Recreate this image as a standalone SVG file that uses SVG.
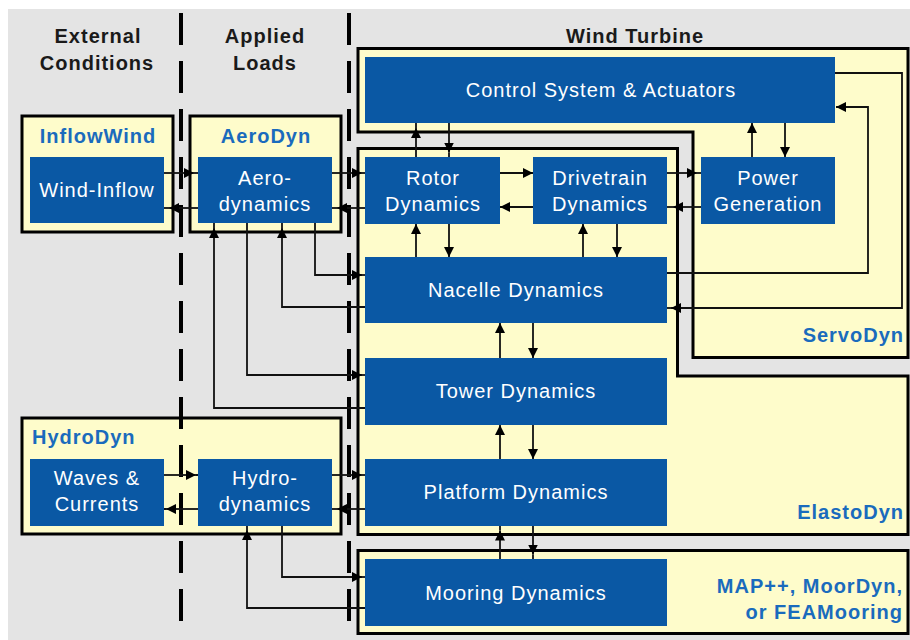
<svg xmlns="http://www.w3.org/2000/svg" width="910" height="640" viewBox="0 0 910 640">
<style>
.bg{fill:#e4e4e4}
.mod{fill:#fefccb;stroke:#000;stroke-width:3}
.dash{stroke:#000;stroke-width:4;stroke-dasharray:32 16;fill:none}
.node{fill:#0a58a4}
.nt{font-family:"Liberation Sans",Arial,sans-serif;font-size:20px;fill:#fff;text-anchor:middle;letter-spacing:1px}
.hd{font-family:"Liberation Sans",Arial,sans-serif;font-size:20px;font-weight:bold;fill:#1a1a1a;text-anchor:middle;letter-spacing:1px}
.ml{font-family:"Liberation Sans",Arial,sans-serif;font-size:20px;font-weight:bold;fill:#1a6bbd;letter-spacing:1px}
.c{fill:none;stroke:#111;stroke-width:1.8}
.a{marker-end:url(#ah)}
</style>
<defs>
<marker id="ah" viewBox="0 0 10 10" refX="10" refY="5" markerWidth="10" markerHeight="10" markerUnits="userSpaceOnUse" orient="auto">
<path d="M0,0 L10,5 L0,10 z" fill="#000"/>
</marker>
</defs>
<rect class="bg" x="8" y="9" width="902" height="631"/>

<g id="headers">
<text class="hd" x="98" y="43">External</text>
<text class="hd" x="97" y="70">Conditions</text>
<text class="hd" x="265" y="43">Applied</text>
<text class="hd" x="265" y="70">Loads</text>
<text class="hd" x="635" y="43">Wind Turbine</text>
</g>

<g id="InflowWind">
<rect class="mod" x="22" y="116" width="151" height="116"/>
<text class="ml" x="98" y="143" text-anchor="middle">InflowWind</text>
</g>
<g id="AeroDyn">
<rect class="mod" x="190" y="116" width="151" height="116"/>
<text class="ml" x="266" y="143" text-anchor="middle">AeroDyn</text>
</g>
<g id="HydroDyn">
<rect class="mod" x="22" y="418" width="319" height="116"/>
<text class="ml" x="32" y="444">HydroDyn</text>
</g>
<g id="ServoDyn">
<path class="mod" d="M358,48.5 H908 V357.5 H693 V132 H358 Z"/>
<text class="ml" x="904" y="342" text-anchor="end">ServoDyn</text>
</g>
<g id="ElastoDyn">
<path class="mod" d="M358,148.5 H677.5 V376 H908 V534.5 H358 Z"/>
<text class="ml" x="904" y="519" text-anchor="end">ElastoDyn</text>
</g>
<g id="MooringModule">
<rect class="mod" x="358" y="550.5" width="550" height="83"/>
<text class="ml" x="903" y="593" text-anchor="end">MAP++, MoorDyn,</text>
<text class="ml" x="903" y="619" text-anchor="end">or FEAMooring</text>
</g>

<g id="dividers">
<line class="dash" x1="181" y1="13" x2="181" y2="623"/>
<line class="dash" x1="349" y1="13" x2="349" y2="623"/>
</g>

<g id="wind-inflow">
<rect class="node" x="30" y="157" width="134" height="66"/>
<text class="nt" x="97" y="197">Wind-Inflow</text>
</g>
<g id="aerodynamics">
<rect class="node" x="198" y="157" width="134" height="66"/>
<text class="nt" x="265" y="185">Aero-</text>
<text class="nt" x="265" y="211">dynamics</text>
</g>
<g id="control">
<rect class="node" x="365" y="57" width="470" height="66"/>
<text class="nt" x="601" y="97">Control System &amp; Actuators</text>
</g>
<g id="rotor">
<rect class="node" x="365" y="157" width="135" height="67"/>
<text class="nt" x="433" y="185">Rotor</text>
<text class="nt" x="433" y="211">Dynamics</text>
</g>
<g id="drivetrain">
<rect class="node" x="533" y="157" width="134" height="67"/>
<text class="nt" x="600" y="185">Drivetrain</text>
<text class="nt" x="600" y="211">Dynamics</text>
</g>
<g id="power">
<rect class="node" x="701" y="157" width="134" height="67"/>
<text class="nt" x="768" y="185">Power</text>
<text class="nt" x="768" y="211">Generation</text>
</g>
<g id="nacelle">
<rect class="node" x="365" y="257" width="302" height="66"/>
<text class="nt" x="516" y="297">Nacelle Dynamics</text>
</g>
<g id="tower">
<rect class="node" x="365" y="358" width="302" height="67"/>
<text class="nt" x="516" y="398">Tower Dynamics</text>
</g>
<g id="platform">
<rect class="node" x="365" y="459" width="302" height="67"/>
<text class="nt" x="516" y="499">Platform Dynamics</text>
</g>
<g id="mooring">
<rect class="node" x="365" y="559" width="302" height="67"/>
<text class="nt" x="516" y="600">Mooring Dynamics</text>
</g>
<g id="waves">
<rect class="node" x="30" y="459" width="134" height="67"/>
<text class="nt" x="97" y="485">Waves &amp;</text>
<text class="nt" x="97" y="511">Currents</text>
</g>
<g id="hydrodynamics">
<rect class="node" x="198" y="459" width="134" height="67"/>
<text class="nt" x="265" y="485">Hydro-</text>
<text class="nt" x="265" y="511">dynamics</text>
</g>

<g id="connectors">
<path class="c a" d="M164,173 H194"/><path class="c" d="M194,173 H198"/>
<path class="c a" d="M198,208 H169"/><path class="c" d="M169,208 H164"/>
<path class="c a" d="M332,173 H362"/><path class="c" d="M362,173 H365"/>
<path class="c a" d="M365,208 H337"/><path class="c" d="M337,208 H332"/>
<path class="c a" d="M416,157 V128"/><path class="c" d="M416,128 V123"/>
<path class="c a" d="M449,123 V152.5"/><path class="c" d="M449,152.5 V157"/>
<path class="c a" d="M500,173 H533"/>
<path class="c a" d="M533,207 H500"/>
<path class="c a" d="M667,173 H697"/><path class="c" d="M697,173 H701"/>
<path class="c a" d="M701,207 H673"/><path class="c" d="M673,207 H667"/>
<path class="c a" d="M752,157 V123"/>
<path class="c a" d="M785,123 V157"/>
<path class="c a" d="M416,257 V224"/>
<path class="c a" d="M449,224 V257"/>
<path class="c a" d="M583,257 V224"/>
<path class="c a" d="M617,224 V257"/>
<path class="c a" d="M500,358 V323"/>
<path class="c a" d="M533,323 V358"/>
<path class="c a" d="M500,459 V425"/>
<path class="c a" d="M533,425 V459"/>
<path class="c a" d="M500,559 V530.5"/><path class="c" d="M500,530.5 V526"/>
<path class="c a" d="M533,526 V554.5"/><path class="c" d="M533,554.5 V559"/>
<path class="c a" d="M667,273 H868 V107 H836"/>
<path class="c a" d="M835,73 H902 V308 H671"/><path class="c" d="M671,308 H667"/>
<path class="c a" d="M315,223 V275 H362"/><path class="c" d="M362,275 H365"/>
<path class="c a" d="M365,307 H282 V228"/><path class="c" d="M282,228 V223"/>
<path class="c a" d="M247,223 V375 H362"/><path class="c" d="M362,375 H365"/>
<path class="c a" d="M365,408 H214 V228"/><path class="c" d="M214,228 V223"/>
<path class="c a" d="M164,475 H196"/><path class="c" d="M196,475 H198"/>
<path class="c a" d="M198,509 H166"/><path class="c" d="M166,509 H164"/>
<path class="c a" d="M332,475 H362"/><path class="c" d="M362,475 H365"/>
<path class="c a" d="M365,509 H337"/><path class="c" d="M337,509 H332"/>
<path class="c a" d="M365,608 H247 V530"/><path class="c" d="M247,530 V526"/>
<path class="c a" d="M282,526 V577 H362"/><path class="c" d="M362,577 H365"/>
</g>
</svg>
